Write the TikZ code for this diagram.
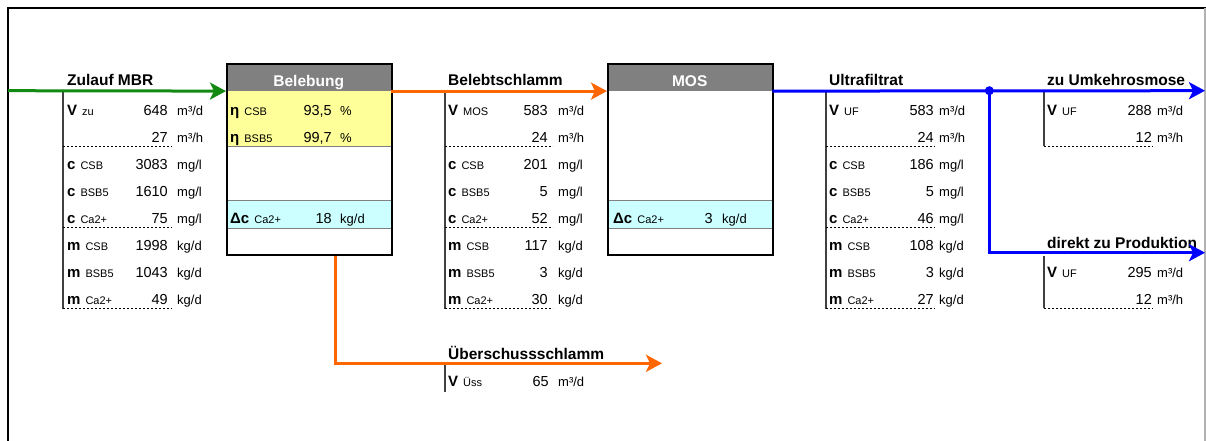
\documentclass[tikz,border=0pt]{standalone}
\usepackage{fontspec}
\setmainfont{Liberation Sans}
\usetikzlibrary{arrows.meta}

\definecolor{kopfgrau}{HTML}{808080}
\definecolor{gelb}{HTML}{FFFF99}
\definecolor{tuerkis}{HTML}{CCFFFF}
\definecolor{gruenL}{HTML}{128A12}
\definecolor{orangeL}{HTML}{FF6600}
\definecolor{blauL}{HTML}{0000FF}

\DeclareRobustCommand{\groesse}[2]{{\bfseries #1}\hspace{5pt}{\fontsize{11}{12}\selectfont #2}}

\tikzset{
  titel/.style={anchor=base west, inner sep=0, font=\fontsize{15.5}{16}\selectfont\bfseries},
  bez/.style={anchor=base west, inner sep=0, font=\fontsize{15}{16}\selectfont},
  wert/.style={anchor=base east, inner sep=0, font=\fontsize{14.5}{16}\selectfont},
  einh/.style={anchor=base west, inner sep=0, font=\fontsize{13}{14}\selectfont},
  leitung/.style={line width=3pt, -{Stealth[length=16pt,width=17pt,inset=4pt]}},
  tabstrich/.style={line width=1.3pt, black!75},
  trenn/.style={black, line width=0.8pt, dash pattern=on 2pt off 2pt},
  kasten/.style={draw, line width=2.2pt, minimum width=165pt, minimum height=191.3pt, inner sep=0, anchor=north west},
  kopf/.style={fill=kopfgrau, minimum width=165pt, minimum height=28pt, inner sep=0, anchor=north west},
}

\begin{document}
\begin{tikzpicture}[x=1pt, y=-1pt]
    \useasboundingbox (0,0) rectangle (1206,441);

    % Rahmen
    \draw[line width=2pt] (8,441) -- (8,8) -- (1206,8);
    \draw[line width=1.5pt, black!30] (1205.2,8) -- (1205.2,441);

    % Belebung
    \node[kopf] (belebKopf) at (226,62.7) {};
    \fill[gelb] (226,90.7) rectangle (391,146);
    \fill[tuerkis] (226,200) rectangle (391,228);
    \draw[black!50] (226,146) -- (391,146) (226,200) -- (391,200) (226,228) -- (391,228);
    \node[kasten] (beleb) at (226,62.7) {};
    \node[titel, anchor=base, text=white] (belebTitel) at ([yshift=4.5]belebKopf.south) {Belebung};
    \node[bez] (etaCSB) at (230,115) {\groesse{η}{CSB}};
    \node[wert] (etaCSBw) at (332,115) {93,5};
    \node[einh] (etaCSBe) at (340,115) {\%};
    \node[bez] (etaBSB) at (230,142) {\groesse{η}{BSB5}};
    \node[wert] (etaBSBw) at (332,142) {99,7};
    \node[einh] (etaBSBe) at (340,142) {\%};
    \node[bez] (dcBeleb) at (230,223) {\groesse{Δc}{Ca2+}};
    \node[wert] (dcBelebw) at (332,223) {18};
    \node[einh] (dcBelebe) at (340,223) {kg/d};

    % MOS
    \node[kopf] (mosKopf) at (607,62.7) {};
    \fill[tuerkis] (607,200) rectangle (772,228);
    \draw[black!50] (607,200) -- (772,200) (607,228) -- (772,228);
    \node[kasten] (mos) at (607,62.7) {};
    \node[titel, anchor=base, text=white] (mosTitel) at ([yshift=4.5]mosKopf.south) {MOS};
    \node[bez] (dcMos) at (613,223) {\groesse{Δc}{Ca2+}};
    \node[wert] (dcMosw) at (713,223) {3};
    \node[einh] (dcMose) at (722,223) {kg/d};

    % Zulauf MBR
    \node[titel] (zuTitel) at (67,86) {Zulauf MBR};
    \draw[tabstrich] (63,92) -- (63,309);
    \foreach \y/\b/\w/\e [count=\i] in {115/\groesse{V}{zu}/648/{m³/d}, 142/{}/27/{m³/h},
        169/\groesse{c}{CSB}/3083/{mg/l}, 196/\groesse{c}{BSB5}/1610/{mg/l}, 223/\groesse{c}{Ca2+}/75/{mg/l},
        250/\groesse{m}{CSB}/1998/{kg/d}, 277/\groesse{m}{BSB5}/1043/{kg/d}, 304/\groesse{m}{Ca2+}/49/{kg/d}} {
      \node[bez] (zuB\i) at (67,\y) {\b};
      \node[wert] (zuW\i) at (168,\y) {\w};
      \node[einh] (zuE\i) at (177,\y) {\e};
    }
    \foreach \y in {146,227,308} \draw[trenn] (63,\y) -- (172,\y);

    % Belebtschlamm
    \node[titel] (bsTitel) at (448,86) {Belebtschlamm};
    \draw[tabstrich] (445,92) -- (445,309);
    \foreach \y/\b/\w/\e [count=\i] in {115/\groesse{V}{MOS}/583/{m³/d}, 142/{}/24/{m³/h},
        169/\groesse{c}{CSB}/201/{mg/l}, 196/\groesse{c}{BSB5}/5/{mg/l}, 223/\groesse{c}{Ca2+}/52/{mg/l},
        250/\groesse{m}{CSB}/117/{kg/d}, 277/\groesse{m}{BSB5}/3/{kg/d}, 304/\groesse{m}{Ca2+}/30/{kg/d}} {
      \node[bez] (bsB\i) at (448,\y) {\b};
      \node[wert] (bsW\i) at (548,\y) {\w};
      \node[einh] (bsE\i) at (558,\y) {\e};
    }
    \foreach \y in {146,227,308} \draw[trenn] (445,\y) -- (553,\y);

    % Ultrafiltrat
    \node[titel] (ufTitel) at (829,86) {Ultrafiltrat};
    \draw[tabstrich] (826,92) -- (826,309);
    \foreach \y/\b/\w/\e [count=\i] in {115/\groesse{V}{UF}/583/{m³/d}, 142/{}/24/{m³/h},
        169/\groesse{c}{CSB}/186/{mg/l}, 196/\groesse{c}{BSB5}/5/{mg/l}, 223/\groesse{c}{Ca2+}/46/{mg/l},
        250/\groesse{m}{CSB}/108/{kg/d}, 277/\groesse{m}{BSB5}/3/{kg/d}, 304/\groesse{m}{Ca2+}/27/{kg/d}} {
      \node[bez] (ufB\i) at (829,\y) {\b};
      \node[wert] (ufW\i) at (934,\y) {\w};
      \node[einh] (ufE\i) at (939,\y) {\e};
    }
    \foreach \y in {146,227,308} \draw[trenn] (826,\y) -- (935,\y);

    % zu Umkehrosmose
    \node[titel] (roTitel) at (1047,86) {zu Umkehrosmose};
    \draw[tabstrich] (1044,92) -- (1044,146);
    \node[bez] (roB1) at (1047,115) {\groesse{V}{UF}};
    \node[wert] (roW1) at (1152,115) {288};
    \node[einh] (roE1) at (1157,115) {m³/d};
    \node[wert] (roW2) at (1152,142) {12};
    \node[einh] (roE2) at (1157,142) {m³/h};
    \draw[trenn] (1044,146) -- (1153,146);

    % direkt zu Produktion
    \node[titel] (prTitel) at (1047,248.5) {direkt zu Produktion};
    \draw[tabstrich] (1044,256) -- (1044,308);
    \node[bez] (prB1) at (1047,277) {\groesse{V}{UF}};
    \node[wert] (prW1) at (1152,277) {295};
    \node[einh] (prE1) at (1157,277) {m³/d};
    \node[wert] (prW2) at (1152,304) {12};
    \node[einh] (prE2) at (1157,304) {m³/h};
    \draw[trenn] (1044,308) -- (1153,308);

    % Ueberschussschlamm
    \node[titel] (uesTitel) at (448,359) {Überschussschlamm};
    \draw[tabstrich] (445,365) -- (445,392);
    \node[bez] (uesB1) at (448,386) {\groesse{V}{Üss}};
    \node[wert] (uesW1) at (549,386) {65};
    \node[einh] (uesE1) at (558,386) {m³/d};

    % Leitungen
    \coordinate (zulauf) at (8,90.7);
    \coordinate (abzw) at (989.3,90.7);
    \coordinate (zuRO) at (1205,90.7);
    \coordinate (zuProd) at (1205,252.7);
    \coordinate (ues) at (662,363.3);
    \draw[leitung, gruenL] (zulauf) -- (belebKopf.south west);
    \draw[leitung, orangeL] (belebKopf.south east) -- (mosKopf.south west);
    \draw[leitung, blauL] (mosKopf.south east) -- (zuRO);
    \draw[leitung, blauL] (abzw) |- (zuProd);
    \fill[blauL] (abzw) circle (4.5);
    \draw[leitung, orangeL] ([xshift=109]beleb.south west) |- (ues);
\end{tikzpicture}
\end{document}
